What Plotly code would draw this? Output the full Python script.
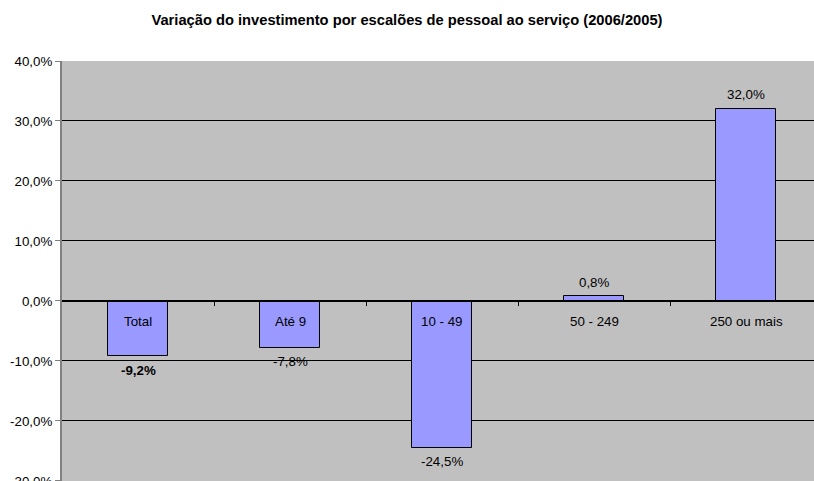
import plotly.graph_objects as go

categories = ["Total", "Até 9", "10 - 49", "50 - 249", "250 ou mais"]
values = [-9.2, -7.8, -24.5, 0.8, 32.0]
value_labels = ["-9,2%", "-7,8%", "-24,5%", "0,8%", "32,0%"]
ytick_vals = [-30, -20, -10, 0, 10, 20, 30, 40]
ytick_text = ["-30,0%", "-20,0%", "-10,0%", "0,0%", "10,0%", "20,0%", "30,0%", "40,0%"]

FONT = "Liberation Sans, Arial, sans-serif"
FS = 13.33
FW, H = 830, 481   # figure a bit wider than the 814 px window; right part is cropped like the reference

fig = go.Figure()
fig.add_trace(go.Bar(
    x=list(range(len(categories))),
    y=values,
    width=0.4,
    marker=dict(color="#9999FF", line=dict(color="black", width=1)),
    hoverinfo="skip",
    cliponaxis=False,
))

annotations = []
for i, (cat, v, lab) in enumerate(zip(categories, values, value_labels)):
    annotations.append(dict(
        x=i, y=0, xref="x", yref="y", text=cat, showarrow=False,
        yshift=-21, font=dict(family=FONT, size=FS, color="black"),
    ))
    txt = "<b>%s</b>" % lab if i == 0 else lab
    annotations.append(dict(
        x=i, y=v, xref="x", yref="y", text=txt, showarrow=False,
        yshift=14 if v >= 0 else -14, font=dict(family=FONT, size=FS, color="black"),
    ))

fig.update_layout(
    margin=dict(l=62, r=0, t=61, b=0, pad=0, autoexpand=False),
    paper_bgcolor="white",
    plot_bgcolor="#C0C0C0",
    showlegend=False,
    title=dict(
        text="<b>Variação do investimento por escalões de pessoal ao serviço (2006/2005)</b>",
        x=407 / FW, xanchor="center", y=1 - 20 / H, yanchor="middle",
        font=dict(family=FONT, size=14.7, color="black"),
        automargin=False,
    ),
    font=dict(family=FONT, size=FS, color="black"),
    annotations=annotations,
    bargap=0,
)

fig.update_xaxes(
    range=[-0.5, -0.5 + (FW - 62) / 152],
    anchor="free", position=3 / 7,
    showline=True, linecolor="black", linewidth=1,
    tickmode="array", tickvals=[0.5, 1.5, 2.5, 3.5, 4.5],
    showticklabels=False,
    ticks="outside", ticklen=4, tickcolor="black", tickwidth=1,
    showgrid=False, zeroline=False, fixedrange=True, automargin=False,
)

fig.update_yaxes(
    range=[-30.02, 40],
    tickmode="array", tickvals=ytick_vals, ticktext=ytick_text,
    ticklabeloverflow="allow",
    showgrid=True, gridcolor="black", gridwidth=1,
    zeroline=False,
    showline=True, linecolor="#808080", linewidth=2,
    ticks="outside", ticklen=5, tickcolor="#808080", tickwidth=1,
    tickfont=dict(family=FONT, size=FS, color="black"),
    fixedrange=True, automargin=False,
)

fig.write_html(
    "out.html",
    config={"responsive": False, "displayModeBar": False},
    default_width="798px",
    default_height="465px",
    post_script=(
        "document.documentElement.style.overflow='hidden';"
        "document.body.style.margin='0';document.body.style.overflow='hidden';"
        "var gd=document.getElementById('{plot_id}');"
        "gd.style.width='%dpx';gd.style.height='%dpx';"
        "Plotly.relayout(gd,{width:%d,height:%d});" % (FW, H, FW, H)
    ),
)
